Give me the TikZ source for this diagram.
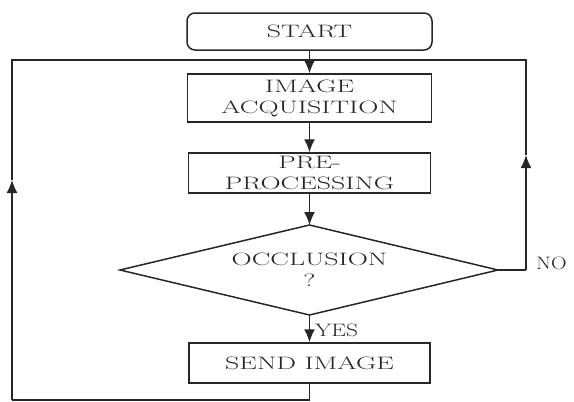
\documentclass[tikz,border=0pt]{standalone}
\usetikzlibrary{arrows.meta}
\newcommand{\wt}[1]{\scalebox{1.55}[1]{#1}}
\tikzset{
  ln/.style={line width=1.5pt, draw=black!85},
  arr/.style={ln, -{Latex[length=13pt,width=11pt]}},
  lbl/.style={font=\fontsize{18}{21}\selectfont, text=black!85},
  boxstyle/.style={ln, rectangle, inner sep=0pt, lbl, align=center},
}
\begin{document}
\begin{tikzpicture}[x=1pt,y=-1pt]
\useasboundingbox (0,0) rectangle (574,402);
\node[boxstyle, rounded corners=8pt, minimum width=245pt, minimum height=37pt] (start) at (309.5,31.5) {\wt{START}};
\node[boxstyle, minimum width=244pt, minimum height=48pt] (acq) at (309.5,98) {\wt{IMAGE}\\\wt{ACQUISITION}};
\node[boxstyle, minimum width=242pt, minimum height=40pt] (pre) at (309.5,173) {\wt{PRE-}\\\wt{PROCESSING}};
\coordinate (dn) at (309.5,225);
\coordinate (de) at (498,270);
\coordinate (ds) at (309.5,315);
\coordinate (dw) at (120,270);
\draw[ln, line join=miter] (dn) -- (de) -- (ds) -- (dw) -- cycle;
\node[lbl, align=center, inner sep=0pt] (occ) at (309.5,270) {\wt{OCCLUSION}\\\wt{?}};
\node[boxstyle, minimum width=241pt, minimum height=40pt] (send) at (309.5,363) {\wt{SEND IMAGE}};
\coordinate (tl) at (12,60);
\coordinate (bl) at (12,400);
\coordinate (br) at (309.5,400);
\coordinate (la) at (12,180);
\coordinate (tr) at (526,60);
\coordinate (nr) at (526,270);
\coordinate (ra) at (526,155);
\draw[arr] (start.south) -- (acq.north);
\draw[arr] (acq.south) -- (pre.north);
\draw[arr] (pre.south) -- (dn);
\draw[arr] (ds) -- (send.north);
\draw[ln] (send.south) -- (br) -- (bl);
\draw[arr] (bl) -- (la);
\draw[ln] (la) -- (tl) -- (tr) -- (ra);
\draw[ln] (de) -- (nr);
\draw[arr] (nr) -- (ra);
\node[lbl, anchor=west, inner sep=0pt] (no) at (536,263) {\scalebox{1.2}[1]{NO}};
\node[lbl, anchor=west, inner sep=0pt] (yes) at (315,330) {\scalebox{1.3}[1]{YES}};
\end{tikzpicture}
\end{document}
